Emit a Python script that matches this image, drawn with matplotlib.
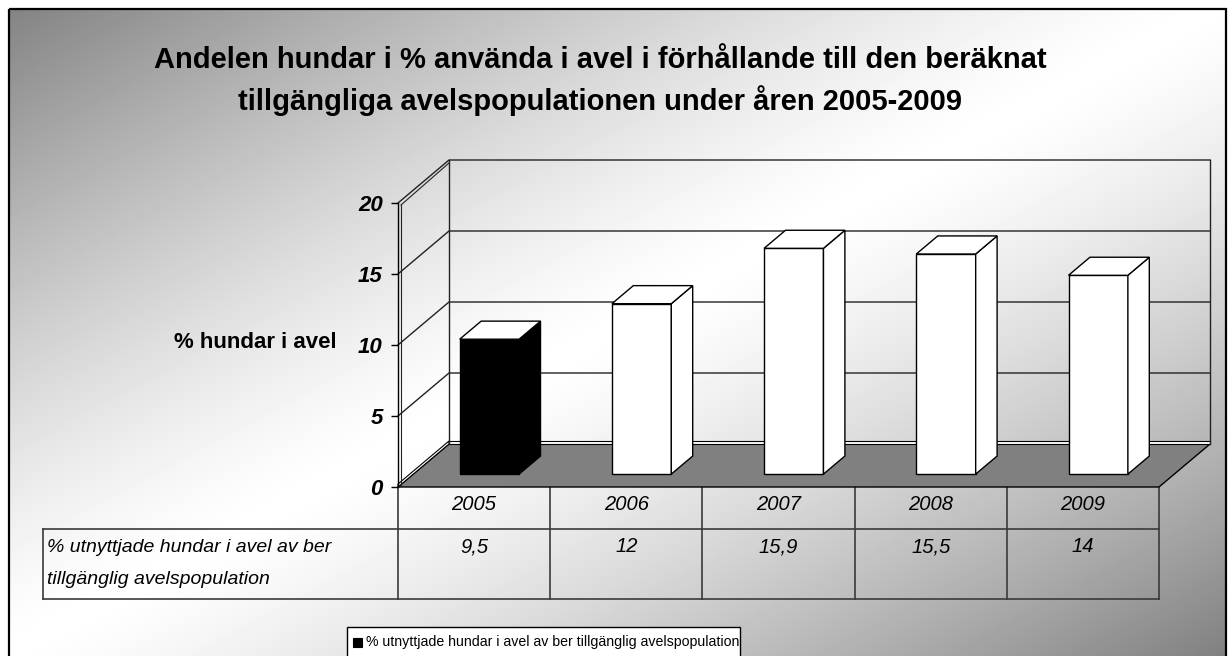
import numpy as np
import matplotlib
matplotlib.use("Agg")
import matplotlib.pyplot as plt
from matplotlib import font_manager, transforms
from matplotlib.patches import Polygon, Rectangle

years = ['2005', '2006', '2007', '2008', '2009']
values = [9.5, 12, 15.9, 15.5, 14]
value_labels = ['9,5', '12', '15,9', '15,5', '14']
bar_colors = ['black', 'white', 'white', 'white', 'white']
yticks = [0, 5, 10, 15, 20]
title = ('Andelen hundar i % använda i avel i förhållande till den beräknat\n'
         'tillgängliga avelspopulationen under åren 2005-2009')
ylabel = '% hundar i avel'
series_name = '% utnyttjade hundar i avel av ber tillgänglig avelspopulation'
row_label = ['% utnyttjade hundar i avel av ber', 'tillgänglig avelspopulation']

W, H = 1228, 656
names = {f.name for f in font_manager.fontManager.ttflist}
FONT = 'Liberation Sans Narrow' if 'Liberation Sans Narrow' in names else 'Liberation Sans'
plt.rcParams['font.family'] = [FONT, 'DejaVu Sans']

fig = plt.figure(figsize=(W / 100, H / 100), dpi=100)
fig.patch.set_facecolor('white')

# pixel-coordinate overlay for background, frame, title, table, legend
bg = fig.add_axes([0, 0, 1, 1])
bg.set_xlim(0, W)
bg.set_ylim(H, 0)
bg.axis('off')

# diagonal gradient: dark corners top-left / bottom-right, white middle
yy, xx = np.mgrid[0:H, 0:W]
t = (xx / W + yy / H) / 2
g = 1 - 0.5 * np.abs(2 * t - 1) ** 1.3
bg.imshow(g[9:, 9:1226], cmap='gray', vmin=0, vmax=1, aspect='auto',
          extent=(9, 1226, H, 9), interpolation='bilinear', zorder=0)
bg.add_patch(Rectangle((9, 9), 1217, 660, fill=False, ec='black', lw=1.6, zorder=1))

bg.text(600, 81, title, ha='center', va='center', fontsize=21, fontweight='bold',
        linespacing=1.45)
bg.text(337, 343, ylabel, ha='right', va='center', fontsize=16, fontweight='bold')

# chart axes = front plane of the 3D box
ax = fig.add_axes([398 / W, (H - 487) / H, 761 / W, 284 / H])
ax.set_xlim(0, len(years))
ax.set_ylim(0, 20)
ax.patch.set_visible(False)
for s in ['top', 'right', 'bottom']:
    ax.spines[s].set_visible(False)
ax.spines['left'].set_linewidth(1)
ax.set_xticks([])
ax.set_yticks(yticks)
ax.set_yticklabels([str(v) for v in yticks], fontsize=16, fontweight='bold',
                   fontstyle='italic')
ax.tick_params(axis='y', direction='out', length=5, pad=6, width=1)

D = np.array([51.0, 43.0])  # depth offset in pixels
ident = transforms.IdentityTransform()
n = len(years)


def P(x, v, d=0.0, off=(0, 0)):
    return ax.transData.transform((x, v)) + D * d + np.array(off)


def poly(pts, fc, ec='black', lw=1.0, z=2):
    ax.add_patch(Polygon(pts, closed=True, fc=fc, ec=ec, lw=lw, transform=ident,
                         clip_on=False, zorder=z))


def line(pts, color='#222222', lw=1.0, z=2):
    pts = np.array(pts)
    ax.plot(pts[:, 0], pts[:, 1], color=color, lw=lw, transform=ident,
            clip_on=False, zorder=z)


# floor
poly([P(0, 0, 0), P(n, 0, 0), P(n, 0, 1), P(0, 0, 1)], '#808080', lw=1.0, z=1)
poly([P(0, 0, 1), P(n, 0, 1), P(n, 0, 1, (0, 3)), P(0, 0, 1, (0, 3))], 'white', lw=0.8, z=1.1)
poly([P(0, 0, 0), P(0, 0, 1), P(0, 0, 1, (0, 3)), P(0, 0, 0, (0, 3))], 'white', lw=0.8, z=1.1)

# walls and gridlines
for v in yticks[1:]:
    line([P(0, v, 0), P(0, v, 1), P(n, v, 1)], lw=1.0, z=1.2)
line([P(0, 0, 1), P(0, 20, 1)], z=1.2)
line([P(n, 0, 1), P(n, 20, 1)], z=1.2)
line([P(0, 0, 0, (3, 2)), P(0, 20, 0, (3, -2))], lw=0.8, z=1.2)
line([P(0, 20, 0, (3, -2)), P(0, 20, 1, (0, -3))], lw=0.8, z=1.2)

# bars
bw = 0.39
df, db = 0.3, 0.72
for i, (v, c) in enumerate(zip(values, bar_colors)):
    x0, x1 = i + 0.5 - bw / 2, i + 0.5 + bw / 2
    poly([P(x0, 0, df), P(x1, 0, df), P(x1, v, df), P(x0, v, df)], c, z=3)
    poly([P(x1, 0, df), P(x1, 0, db), P(x1, v, db), P(x1, v, df)], c, z=3)
    poly([P(x0, v, df), P(x1, v, df), P(x1, v, db), P(x0, v, db)], 'white', z=3)

# data table
tc = '#3a3a3a'
colx = [398 + k * 761 / n for k in range(n + 1)]
for x in colx:
    bg.plot([x, x], [487, 599], color=tc, lw=1.2, zorder=2)
bg.plot([43, colx[-1]], [529, 529], color=tc, lw=1.2, zorder=2)
bg.plot([43, colx[-1]], [599, 599], color=tc, lw=1.2, zorder=2)
bg.plot([43, 43], [529, 599], color=tc, lw=1.2, zorder=2)
for k in range(n):
    cx = (colx[k] + colx[k + 1]) / 2
    bg.text(cx, 505, years[k], ha='center', va='center', fontsize=14.5, fontstyle='italic')
    bg.text(cx, 547, value_labels[k], ha='center', va='center', fontsize=14.5,
            fontstyle='italic')
for j, txt in enumerate(row_label):
    bg.text(47, 548 + 32 * j, txt, ha='left', va='center', fontsize=14, fontstyle='italic')

# legend
bg.add_patch(Rectangle((347, 627), 393, 40, fc='white', ec='black', lw=1.0, zorder=2))
bg.add_patch(Rectangle((353, 638), 9, 9, fc=bar_colors[0], ec='black', lw=0.8, zorder=3))
bg.text(366, 642, series_name, ha='left', va='center', fontsize=10.2, zorder=3)

fig.savefig('out.png', dpi=100)
